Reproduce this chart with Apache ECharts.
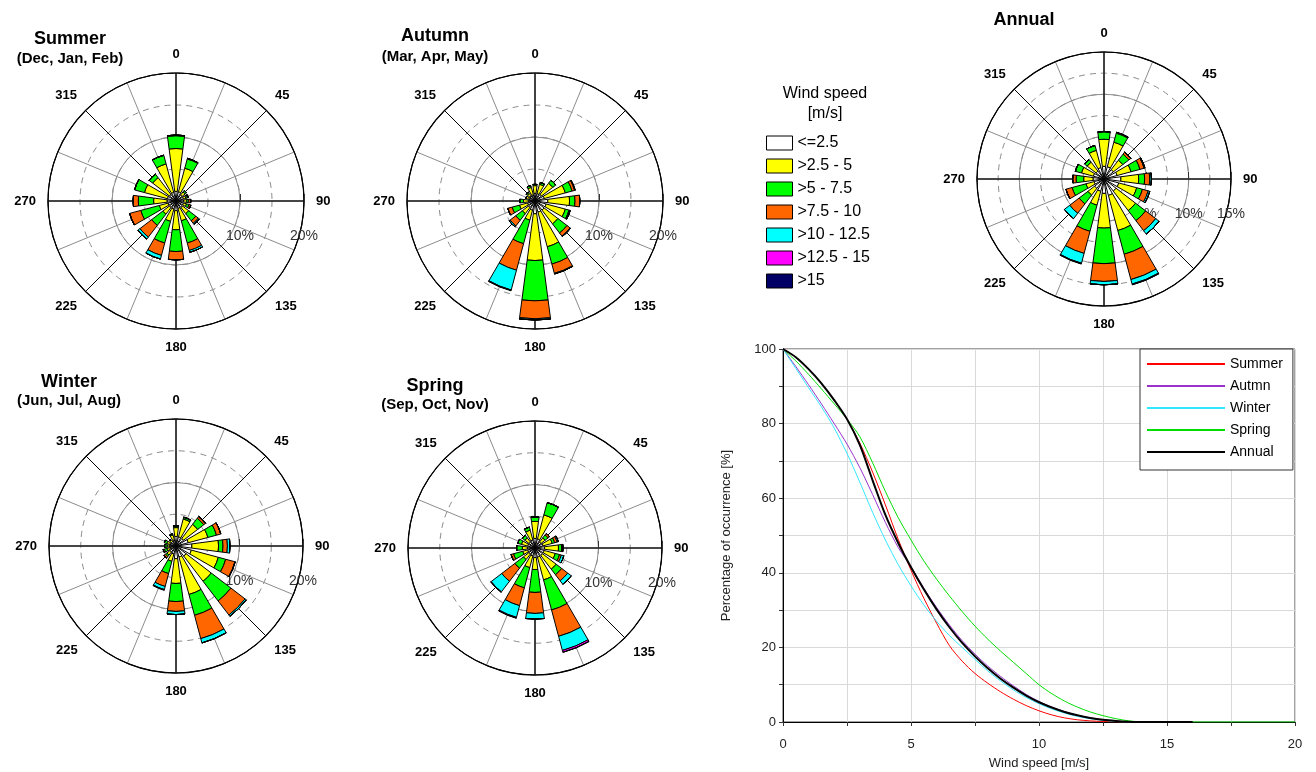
<!DOCTYPE html>
<html><head><meta charset="utf-8">
<script src="https://cdn.jsdelivr.net/npm/echarts@6/dist/echarts.min.js"></script>
<style>html,body{margin:0;padding:0;background:#fff}#c{width:1316px;height:772px}</style>
</head><body><div id="c"></div>
<script>
// ---------- data ----------
const directions = ['N','NNE','NE','ENE','E','ESE','SE','SSE','S','SSW','SW','WSW','W','WNW','NW','NNW'];
const speedClasses = ['<=2.5','>2.5 - 5','>5 - 7.5','>7.5 - 10','>10 - 12.5','>12.5 - 15','>15'];

// frequency (%) per speed class (rows) and direction (columns)
const summerRose = [
 [1.5,1.5,1.2,1.2,1.2,1.2,1.3,1.2,1.5,1.3,1.3,1.3,1.4,1.4,1.3,1.4],
 [6.7,3.8,0.6,0.4,0.5,0.5,1.2,2.0,3.0,2.0,1.3,1.4,2.1,3.7,3.3,4.6],
 [2.0,1.5,0.3,0.25,0.3,0.4,1.4,3.6,3.4,3.5,2.2,3.0,2.4,1.6,0.7,1.4],
 [0.1,0.1,0,0.15,0.3,0.3,0.5,1.2,1.3,2.0,2.3,1.8,0.8,0,0,0],
 [0,0,0,0,0,0,0.2,0.3,0,0.6,0.4,0,0,0,0,0],
 [0,0,0,0,0,0,0,0,0,0,0,0,0,0,0,0],
 [0,0,0,0,0,0,0,0,0,0,0,0,0,0,0,0]
];
const autumnRose = [
 [1.2,1.2,1.3,1.5,2.0,1.8,1.8,1.8,2.0,1.5,1.3,1.2,1.0,1.0,1.0,1.0],
 [1.2,1.5,2.2,3.4,3.4,3.1,2.7,5.6,7.3,1.6,1.2,1.3,0.8,0.5,0.5,1.2],
 [0.2,0.3,0.6,1.1,0.85,0.6,1.8,2.8,6.3,3.8,1.3,1.2,0.6,0,0.2,0.3],
 [0,0,0,0.4,0.75,0.1,0.6,1.5,2.8,4.3,1.1,0.7,0,0,0,0],
 [0,0,0,0.1,0,0.1,0.1,0.1,0.2,3.2,0.2,0,0,0,0,0],
 [0,0,0,0,0,0,0,0,0,0.05,0,0,0,0,0,0],
 [0,0,0,0,0,0,0,0,0,0.08,0,0,0,0,0,0]
];
const winterRose = [
 [1.5,1.5,1.5,2.0,2.5,2.5,2.0,1.8,2.0,1.3,1.2,1.0,1.0,1.0,0.9,1.0],
 [1.4,2.9,2.8,3.2,4.2,4.4,5.0,6.1,3.9,1.2,0.6,0.5,0.4,0.5,0.4,0.8],
 [0.3,0.25,1.2,1.4,0.7,1.2,3.9,3.4,2.85,2.0,0.3,0.4,0.4,0.4,0,0.2],
 [0,0.05,0.3,0.7,0.7,1.5,2.8,3.8,1.55,2.1,0.3,0.2,0,0,0,0],
 [0,0,0.1,0,0.4,0.05,0.25,0.7,0.5,0.5,0,0,0,0,0,0],
 [0,0,0,0,0,0,0,0,0,0.06,0,0,0,0,0,0],
 [0,0,0,0,0,0,0,0,0,0.06,0,0,0,0,0,0]
];
const springRose = [
 [1.5,1.5,1.2,1.3,1.5,1.5,1.5,1.5,1.5,1.3,1.2,1.2,1.2,1.2,1.2,1.3],
 [2.7,3.9,0.8,1.5,2.2,1.8,2.7,3.7,1.9,1.9,1.1,0.8,0.8,1.0,0.8,1.6],
 [0.7,2.0,0.6,0.4,0.5,0.7,1.1,4.9,3.6,3.3,1.7,1.5,0.9,0.6,0.5,0.5],
 [0,0,0.3,0.4,0.2,0.3,1.2,4.3,3.3,2.9,2.6,0.4,0,0,0,0],
 [0,0,0,0.2,0,0.4,0.7,2.3,0.9,1.9,2.1,0,0,0,0,0],
 [0,0,0,0,0,0,0,0.3,0,0.1,0.05,0,0,0,0,0],
 [0,0,0,0,0,0,0,0,0,0.05,0.05,0,0,0,0,0]
];
const annualRose = [
 [1.5,1.5,1.4,1.6,2.0,1.8,1.8,2.0,1.7,1.5,1.4,1.2,1.3,1.3,1.2,1.4],
 [3.2,3.0,1.4,1.7,2.1,2.2,2.9,4.3,4.1,1.7,1.0,1.0,1.1,1.45,1.3,2.1],
 [0.9,1.1,0.9,1.1,0.7,0.7,1.5,2.9,4.2,3.2,1.3,1.7,0.9,0.75,0.4,0.6],
 [0,0.1,0.3,0.5,0.6,0.7,1.5,3.1,2.1,2.7,1.4,0.75,0.4,0,0,0],
 [0,0,0,0.1,0.2,0.2,0.5,0.55,0.4,1.2,0.8,0,0,0,0,0],
 [0,0,0,0,0,0,0,0.05,0,0.05,0,0,0,0,0,0],
 [0,0,0,0,0,0,0,0.05,0,0.05,0,0,0,0,0,0]
];

// exceedance curves: percentage of occurrence vs wind speed
const speedsMs = [0,0.5,1,1.5,2,2.5,3,3.5,4,4.5,5,5.5,6,6.5,7,7.5,8,8.5,9,9.5,10,10.5,11,11.5,12,12.5,13,13.5,14,14.5,15,15.5,16,16.5,17,17.5,18,18.5,19,19.5,20];
const pctSummer = [100,97.8,94.6,90.8,86.3,81.2,74.8,67.0,58.2,49.0,40.7,33.2,26.5,20.5,16.3,13.0,10.4,8.1,6.1,4.4,3.0,1.9,1.1,0.6,0.3,0.15,0.05,0,0];
const pctAutumn = [100,95.3,90.4,85.3,80.0,74.5,68.2,61.0,53.5,46.8,41.6,35.9,30.7,26.0,21.8,18.2,15.0,12.2,9.7,7.4,5.5,4.0,2.8,1.8,1.1,0.6,0.25,0.05,0];
const pctWinter = [100,94.8,89.6,84.5,78.8,72.0,64.3,56.2,48.8,42.2,36.5,31.4,27.0,23.2,20.0,16.8,13.7,11.0,8.6,6.6,4.9,3.5,2.4,1.5,0.9,0.45,0.15,0,0];
const pctSpring = [100,96.8,93.2,89.3,85.3,81.2,76.5,69.5,61.8,54.8,48.8,43.2,38.3,33.8,29.6,25.7,22.2,19.0,16.0,13.0,10.0,7.6,5.6,4.0,2.7,1.7,0.9,0.3,0.05,0,0,0,0,0,0,0,0,0,0,0,0];
const pctAnnual = [100,97.8,94.6,90.8,86.3,81.2,74.3,64.8,55.5,48.0,41.5,35.6,30.2,25.4,21.2,17.6,14.4,11.6,9.2,7.1,5.3,3.9,2.7,1.8,1.1,0.6,0.3,0.1,0,0,0,0,0];
const curveNames = ['Summer','Autmn','Winter','Spring','Annual'];

// ---------- styles / layout ----------
const FONT = '"Liberation Sans", Arial, Helvetica, sans-serif';
const classColors = ['#ffffff','#ffff00','#00ff00','#ff6600','#00ffff','#ff00ff','#000066'];
const curveColors = ['#ff0000','#9933cc','#33e6ff','#00dd00','#000000'];
const curveWidths = [1,1,1,1,2];

const roses = [
  {data: summerRose, center:[176,201], r:128, max:20, major:10, minor:5},
  {data: autumnRose, center:[535,201], r:128, max:20, major:10, minor:5},
  {data: winterRose, center:[176,546], r:127, max:20, major:10, minor:5},
  {data: springRose, center:[535,548], r:127, max:20, major:10, minor:5},
  {data: annualRose, center:[1104,179], r:127, max:15, major:5, minor:2.5}
];

const polar = [], angleAxis = [], radiusAxis = [], series = [];
roses.forEach((ro, i) => {
  const b = i * 3;
  for (let k = 0; k < 3; k++) polar.push({center: ro.center, radius: ro.r});
  // P0: spokes, outer circle, dashed rings, direction labels
  angleAxis.push({polarIndex: b, type:'value', min:0, max:360, interval:22.5, startAngle:90, clockwise:true,
    axisLine:{show:true, lineStyle:{color:'#000', width:1.2}},
    axisTick:{show:false},
    axisLabel:{show:true, margin:12, color:'#000', fontWeight:'bold', fontSize:13, fontFamily:FONT,
      formatter: v => (v % 45 === 0 && v < 360) ? String(v) : ''},
    splitLine:{show:true, lineStyle:{color:['#000','#8c8c8c'], width:1}}
  });
  radiusAxis.push({polarIndex: b, type:'value', min:0, max:ro.max, interval:ro.minor,
    axisLine:{show:false}, axisTick:{show:false}, axisLabel:{show:false},
    splitLine:{show:true, lineStyle:{color:'#8c8c8c', width:1, type:[6,5]}}
  });
  // P1: main cross, solid rings, percentage labels
  const nMajor = Math.round(ro.max / ro.major) + 1;
  const ringColors = [];
  for (let k = 0; k < nMajor; k++) ringColors.push(k === nMajor - 1 ? '#000' : '#8c8c8c');
  angleAxis.push({polarIndex: b + 1, type:'value', min:0, max:360, interval:90, startAngle:0, clockwise:true,
    axisLine:{show:false}, axisTick:{show:false}, axisLabel:{show:false},
    splitLine:{show:true, lineStyle:{color:'#333', width:1.6}}
  });
  radiusAxis.push({polarIndex: b + 1, type:'value', min:0, max:ro.max, interval:ro.major,
    axisLine:{show:false},
    axisTick:{show:true, inside:true, length:7, lineStyle:{color:'#333'}},
    axisLabel:{show:true, margin:-35, verticalAlign:'middle', color:'#333', fontSize:14, fontFamily:FONT,
      formatter: v => v ? v + '%' : ''},
    splitLine:{show:true, lineStyle:{color:ringColors, width:1}}
  });
  // P2: bars
  angleAxis.push({polarIndex: b + 2, type:'category', data: directions, startAngle: 90 + 180 / directions.length,
    clockwise:true, show:false});
  radiusAxis.push({polarIndex: b + 2, type:'value', min:0, max:ro.max, show:false});
  ro.data.forEach((row, c) => {
    series.push({type:'bar', name: speedClasses[c], coordinateSystem:'polar', polarIndex: b + 2,
      stack:'rose' + i, data: row, barCategoryGap:'33%', silent:true,
      itemStyle:{color: classColors[c], borderColor:'#000', borderWidth:1}});
  });
});

const curves = [pctSummer, pctAutumn, pctWinter, pctSpring, pctAnnual];
curves.forEach((arr, i) => {
  series.push({type:'line', name: curveNames[i], xAxisIndex:0, yAxisIndex:0,
    data: arr.map((v, k) => [speedsMs[k], v]),
    smooth:0.3, showSymbol:false, symbol:'none', silent:true, z: 3 + (i === 4 ? 1 : 0),
    lineStyle:{color: curveColors[i], width: curveWidths[i]},
    itemStyle:{color: curveColors[i]}});
});

const txt = (x, y, text, font) => ({type:'text', x, y, silent:true,
  style:{text, font, fill:'#000', align:'center', verticalAlign:'middle'}});

const option = {
  animation:false,
  backgroundColor:'#fff',
  textStyle:{fontFamily:FONT},
  polar, angleAxis, radiusAxis,
  grid:{left:783, top:349, width:512, height:373, containLabel:false, outerBoundsMode:'none',
    show:true, borderColor:'#444', borderWidth:1},
  xAxis:{type:'value', min:0, max:20, interval:2.5,
    name:'Wind speed [m/s]', nameLocation:'middle', nameGap:35,
    nameTextStyle:{fontSize:13, color:'#222', fontFamily:FONT},
    axisLine:{lineStyle:{color:'#000', width:1}},
    axisTick:{show:true, length:4, lineStyle:{color:'#333'}},
    axisLabel:{fontSize:13, color:'#222', margin:16, fontFamily:FONT,
      formatter: v => v % 5 === 0 ? String(v) : ''},
    splitLine:{show:true, lineStyle:{color:'#d9d9d9', width:1}}},
  yAxis:{type:'value', min:0, max:100, interval:10,
    name:'Percentage of occurrence [%]', nameLocation:'middle', nameGap:50, nameRotate:90,
    nameTextStyle:{fontSize:13, color:'#222', fontFamily:FONT},
    axisLine:{lineStyle:{color:'#000', width:1}},
    axisTick:{show:true, length:4, lineStyle:{color:'#333'}},
    axisLabel:{fontSize:13, color:'#222', margin:7, fontFamily:FONT,
      formatter: v => v % 20 === 0 ? String(v) : ''},
    splitLine:{show:true, lineStyle:{color:'#d9d9d9', width:1}}},
  legend:[
    {data: speedClasses, orient:'vertical', left:761, top:130, padding:5,
     itemWidth:26, itemHeight:14, itemGap:7, icon:'rect', selectedMode:false,
     itemStyle:{borderColor:'#000', borderWidth:1},
     textStyle:{fontSize:16, lineHeight:16, color:'#000', fontFamily:FONT}},
    {data: curveNames, orient:'vertical', left:1140, top:349, padding:[7,10,10,7],
     backgroundColor:'#fff', borderColor:'#333', borderWidth:1,
     itemWidth:78, itemHeight:2, itemGap:6, icon:'rect', selectedMode:false,
     textStyle:{fontSize:14, lineHeight:16, color:'#000', fontFamily:FONT}}
  ],
  graphic:[
    txt(70, 39, 'Summer', 'bold 18px ' + FONT),
    txt(70, 59, '(Dec, Jan, Feb)', 'bold 15px ' + FONT),
    txt(435, 36, 'Autumn', 'bold 18px ' + FONT),
    txt(435, 57, '(Mar, Apr, May)', 'bold 15px ' + FONT),
    txt(69, 382, 'Winter', 'bold 18px ' + FONT),
    txt(69, 401, '(Jun, Jul, Aug)', 'bold 15px ' + FONT),
    txt(435, 386, 'Spring', 'bold 18px ' + FONT),
    txt(435, 405, '(Sep, Oct, Nov)', 'bold 15px ' + FONT),
    txt(1024, 20, 'Annual', 'bold 18px ' + FONT),
    txt(825, 94, 'Wind speed', '16px ' + FONT),
    txt(825, 114, '[m/s]', '16px ' + FONT)
  ],
  series
};
echarts.init(document.getElementById('c'), null, {renderer:'canvas'}).setOption(option);
</script></body></html>
